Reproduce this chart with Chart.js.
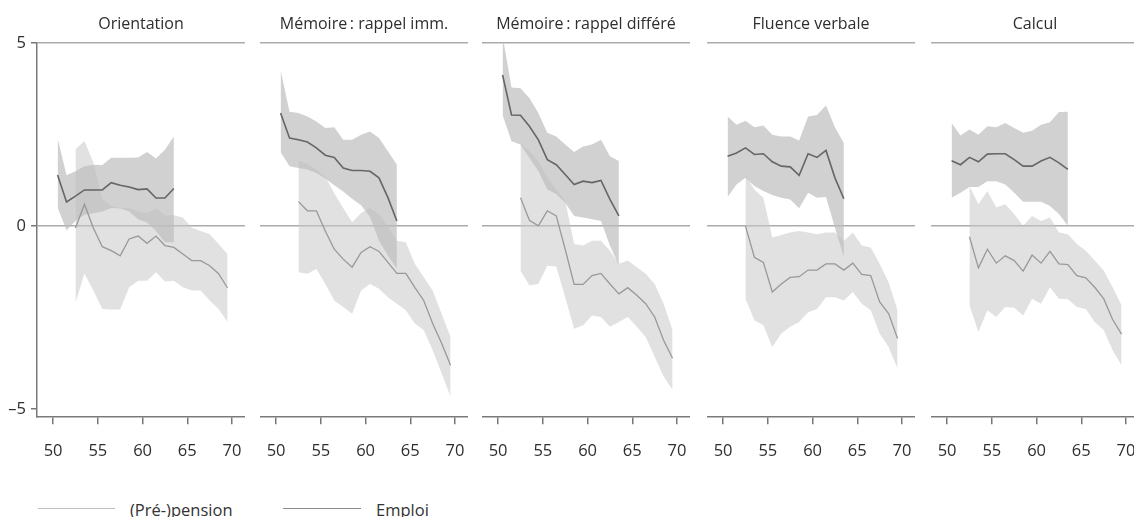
<!DOCTYPE html>
<html lang="fr">
<head>
<meta charset="utf-8">
<title>Scores cognitifs selon l'âge</title>
<script src="https://cdn.jsdelivr.net/npm/chart.js@4.4.1/dist/chart.umd.min.js"></script>
<style>
    html, body { margin: 0; padding: 0; background: #fff; }
    #wrap {
        position: relative;
        width: 1134px;
        height: 517px;
        overflow: hidden;
        font-family: 'Open Sans', sans-serif;
        color: #333;
    }
    #wrap canvas { position: absolute; top: 0; }
    .legend-line { position: absolute; top: 508px; height: 0; border-top: 1.5px solid; }
    .legend-text { position: absolute; top: 500px; font-size: 16.5px; line-height: 20px; white-space: nowrap; }
</style>
</head>
<body>
<div id="wrap">
    <div class="legend-line" style="left:38px;width:77px;border-color:#bdbdbd"></div>
    <div class="legend-text" style="left:130px">(Pré-)pension</div>
    <div class="legend-line" style="left:283px;width:78px;border-color:#8c8c8c"></div>
    <div class="legend-text" style="left:376px">Emploi</div>
</div>
<script>
'use strict';

// ─── Données ────────────────────────────────────────────────

const AGES_EMPLOI  = [50.5, 51.5, 52.5, 53.5, 54.5, 55.5, 56.5, 57.5, 58.5, 59.5, 60.5, 61.5, 62.5, 63.5];
const AGES_PENSION = [52.5, 53.5, 54.5, 55.5, 56.5, 57.5, 58.5, 59.5, 60.5, 61.5, 62.5, 63.5, 64.5, 65.5, 66.5, 67.5, 68.5, 69.5];

const X_TICKS = [50, 55, 60, 65, 70];
const Y_TICKS = [-5, 0, 5];

const TITLES = ['Orientation', 'Mémoire\u2009: rappel imm.', 'Mémoire\u2009: rappel différé', 'Fluence verbale', 'Calcul'];

// Orientation
const orientEmploi      = [1.40, 0.66, 0.82, 0.99, 0.99, 0.99, 1.19, 1.12, 1.07, 1.00, 1.02, 0.77, 0.77, 1.03];
const orientEmploiHaut  = [2.41, 1.39, 1.50, 1.64, 1.68, 1.67, 1.87, 1.87, 1.87, 1.88, 2.03, 1.85, 2.09, 2.45];
const orientEmploiBas   = [0.51, -0.11, 0.14, 0.31, 0.35, 0.40, 0.50, 0.48, 0.40, 0.19, 0.10, -0.13, -0.44, -0.44];
const orientPension     = [-0.05, 0.60, -0.05, -0.56, -0.67, -0.81, -0.35, -0.27, -0.47, -0.27, -0.53, -0.58, -0.76, -0.94, -0.94, -1.08, -1.30, -1.69];
const orientPensionHaut = [2.10, 2.33, 1.74, 0.75, 0.55, 0.50, 0.50, 0.40, 0.35, 0.50, 0.30, 0.30, 0.24, -0.04, -0.13, -0.22, -0.49, -0.76];
const orientPensionBas  = [-2.10, -1.29, -1.76, -2.26, -2.28, -2.28, -1.67, -1.49, -1.49, -1.26, -1.51, -1.49, -1.67, -1.76, -1.76, -2.03, -2.26, -2.62];

// Mémoire : rappel immédiat
const rappelImmEmploi      = [3.09, 2.41, 2.36, 2.30, 2.14, 1.94, 1.88, 1.59, 1.52, 1.52, 1.50, 1.32, 0.78, 0.14];
const rappelImmEmploiHaut  = [4.27, 3.13, 3.09, 3.00, 2.86, 2.68, 2.70, 2.36, 2.36, 2.50, 2.59, 2.41, 2.05, 1.68];
const rappelImmEmploiBas   = [2.03, 1.64, 1.59, 1.55, 1.45, 1.30, 1.12, 0.95, 0.75, 0.57, 0.25, -0.40, -0.80, -1.17];
const rappelImmPension     = [0.67, 0.42, 0.42, -0.13, -0.63, -0.90, -1.12, -0.72, -0.56, -0.69, -0.99, -1.29, -1.29, -1.67, -2.03, -2.66, -3.20, -3.80];
const rappelImmPensionHaut = [1.80, 1.70, 1.55, 1.35, 0.90, 0.50, 0.11, 0.36, 0.50, 0.33, 0.00, -0.40, -0.44, -1.03, -1.39, -1.76, -2.39, -3.03];
const rappelImmPensionBas  = [-1.26, -1.30, -1.17, -1.58, -2.03, -2.21, -2.39, -1.76, -1.58, -1.71, -1.94, -2.12, -2.30, -2.66, -2.84, -3.39, -4.02, -4.66];

// Mémoire : rappel différé
const rappelDifEmploi      = [4.13, 3.04, 3.03, 2.73, 2.36, 1.82, 1.68, 1.41, 1.14, 1.23, 1.19, 1.25, 0.73, 0.28];
const rappelDifEmploiHaut  = [5.20, 3.79, 3.77, 3.50, 3.09, 2.55, 2.45, 2.23, 2.03, 2.18, 2.23, 2.36, 1.91, 1.78];
const rappelDifEmploiBas   = [3.04, 2.32, 2.23, 1.87, 1.50, 1.00, 0.87, 0.64, 0.28, 0.24, 0.19, 0.14, -0.53, -1.08];
const rappelDifPension     = [0.78, 0.16, 0.01, 0.42, 0.28, -0.63, -1.59, -1.59, -1.35, -1.29, -1.58, -1.85, -1.68, -1.89, -2.12, -2.48, -3.12, -3.61];
const rappelDifPensionHaut = [2.25, 2.05, 1.78, 1.32, 1.00, 0.70, -0.49, -0.53, -0.40, -0.40, -0.67, -1.03, -0.94, -1.12, -1.30, -1.58, -2.12, -2.84];
const rappelDifPensionBas  = [-1.21, -1.62, -1.58, -1.08, -1.10, -1.94, -2.80, -2.71, -2.44, -2.48, -2.75, -2.62, -2.48, -2.75, -3.03, -3.57, -4.11, -4.47];

// Fluence verbale
const fluenceEmploi      = [1.91, 2.00, 2.14, 1.96, 1.98, 1.76, 1.64, 1.62, 1.39, 1.98, 1.88, 2.07, 1.32, 0.75];
const fluenceEmploiHaut  = [3.00, 2.77, 2.88, 2.70, 2.75, 2.50, 2.45, 2.45, 2.34, 3.00, 3.04, 3.30, 2.70, 2.27];
const fluenceEmploiBas   = [0.80, 1.14, 1.32, 1.10, 0.96, 0.85, 0.78, 0.73, 0.49, 0.91, 0.78, 0.80, -0.04, -0.85];
const fluencePension     = [0.00, -0.85, -0.99, -1.80, -1.58, -1.40, -1.38, -1.20, -1.20, -1.03, -1.03, -1.20, -1.01, -1.32, -1.35, -2.07, -2.39, -3.07];
const fluencePensionHaut = [1.40, 1.00, 0.78, -0.31, -0.24, -0.17, -0.13, -0.17, -0.22, -0.17, -0.17, -0.40, -0.17, -0.53, -0.58, -1.03, -1.53, -2.30];
const fluencePensionBas  = [-1.98, -2.57, -2.71, -3.30, -2.93, -2.75, -2.62, -2.35, -2.26, -1.94, -1.94, -2.03, -1.80, -2.12, -2.30, -2.93, -3.30, -3.89];

// Calcul
const calculEmploi      = [1.79, 1.68, 1.88, 1.76, 1.97, 1.98, 1.98, 1.82, 1.64, 1.64, 1.78, 1.88, 1.73, 1.55];
const calculEmploiHaut  = [2.82, 2.48, 2.64, 2.50, 2.73, 2.70, 2.82, 2.68, 2.55, 2.61, 2.77, 2.84, 3.12, 3.13];
const calculEmploiBas   = [0.78, 0.91, 1.07, 1.07, 1.23, 1.23, 1.14, 0.91, 0.67, 0.67, 0.67, 0.55, 0.33, 0.01];
const calculPension     = [-0.29, -1.14, -0.63, -1.01, -0.81, -0.94, -1.23, -0.79, -1.01, -0.69, -1.03, -1.05, -1.35, -1.41, -1.67, -1.98, -2.55, -2.95];
const calculPensionHaut = [1.10, 0.60, 0.96, 0.51, 0.60, 0.33, 0.01, 0.28, 0.14, 0.24, -0.17, -0.22, -0.49, -0.67, -0.94, -1.21, -1.67, -2.16];
const calculPensionBas  = [-2.16, -2.89, -2.30, -2.48, -2.21, -2.23, -2.44, -1.98, -2.12, -1.67, -1.98, -2.00, -2.21, -2.26, -2.62, -2.84, -3.39, -3.80];

const PANELS = [
    { emploi: [orientEmploi, orientEmploiHaut, orientEmploiBas],             pension: [orientPension, orientPensionHaut, orientPensionBas] },
    { emploi: [rappelImmEmploi, rappelImmEmploiHaut, rappelImmEmploiBas],    pension: [rappelImmPension, rappelImmPensionHaut, rappelImmPensionBas] },
    { emploi: [rappelDifEmploi, rappelDifEmploiHaut, rappelDifEmploiBas],    pension: [rappelDifPension, rappelDifPensionHaut, rappelDifPensionBas] },
    { emploi: [fluenceEmploi, fluenceEmploiHaut, fluenceEmploiBas],          pension: [fluencePension, fluencePensionHaut, fluencePensionBas] },
    { emploi: [calculEmploi, calculEmploiHaut, calculEmploiBas],             pension: [calculPension, calculPensionHaut, calculPensionBas] },
];

// ─── Mise en page ───────────────────────────────────────────

const PLOT_LEFT   = [37, 260, 482, 707, 931];
const PLOT_WIDTH  = 208;
const AXIS_WIDTH  = 37;
const CANVAS_H    = 478;
const FONT        = "'Open Sans', sans-serif";

const COL_EMPLOI_LINE  = '#666666';
const COL_EMPLOI_BAND  = 'rgba(190,190,190,0.7)';
const COL_PENSION_LINE = '#999999';
const COL_PENSION_BAND = 'rgba(200,200,200,0.55)';

// ─── Helpers ────────────────────────────────────────────────

function points(ages, values) {
    return ages.map((x, i) => ({ x, y: values[i] }));
}

function band(ages, hi, lo, color, order) {
    return [
        { data: points(ages, hi), fill: '+1', backgroundColor: color, borderColor: 'rgba(0,0,0,0)', borderWidth: 0, pointRadius: 0, order },
        { data: points(ages, lo), fill: false, borderColor: 'rgba(0,0,0,0)', borderWidth: 0, pointRadius: 0, order },
    ];
}

function line(ages, values, color, width, order) {
    return { data: points(ages, values), fill: false, borderColor: color, borderWidth: width, pointRadius: 0, tension: 0, order };
}

function minusLabel(v) {
    return v < 0 ? '\u2013' + Math.abs(v) : String(v);
}

// ─── Panneaux ───────────────────────────────────────────────

function drawPanel(idx) {
    const p = PANELS[idx];
    const first = idx === 0;
    const canvas = document.createElement('canvas');
    const width = first ? AXIS_WIDTH + PLOT_WIDTH : PLOT_WIDTH;
    canvas.width = width;
    canvas.height = CANVAS_H;
    canvas.style.left = (first ? 0 : PLOT_LEFT[idx]) + 'px';
    canvas.style.width = width + 'px';
    canvas.style.height = CANVAS_H + 'px';
    document.getElementById('wrap').appendChild(canvas);

    new Chart(canvas, {
        type: 'line',
        data: {
            datasets: [
                ...band(AGES_PENSION, p.pension[1], p.pension[2], COL_PENSION_BAND, 4),
                ...band(AGES_EMPLOI, p.emploi[1], p.emploi[2], COL_EMPLOI_BAND, 3),
                line(AGES_PENSION, p.pension[0], COL_PENSION_LINE, 1.3, 2),
                line(AGES_EMPLOI, p.emploi[0], COL_EMPLOI_LINE, 1.6, 1),
            ],
        },
        options: {
            responsive: false,
            animation: false,
            events: [],
            layout: { padding: 0 },
            plugins: {
                legend: { display: false },
                tooltip: { enabled: false },
                title: {
                    display: true,
                    fullSize: false,   // centre over the plot, not over the y axis
                    text: TITLES[idx],
                    color: '#2e2e2e',
                    font: { family: FONT, size: 16, weight: 'normal' },
                    padding: { top: 15, bottom: 9 },
                },
            },
            scales: {
                x: {
                    type: 'linear',
                    min: 48.2,
                    max: 71.45,
                    afterBuildTicks: (s) => { s.ticks = X_TICKS.map(v => ({ value: v })); },
                    // the labels sit well inside the panel: no side padding wanted
                    afterFit: (s) => { s.paddingLeft = 0; s.paddingRight = 0; },
                    grid: { drawOnChartArea: false, drawTicks: true, tickLength: 7, tickColor: '#777', lineWidth: 1.5 },
                    border: { display: true, color: '#7a7a7a', width: 1.5 },
                    ticks: { color: '#2e2e2e', padding: 17, maxRotation: 0, font: { family: FONT, size: 16.5 } },
                },
                y: {
                    min: -5.22,
                    max: 5,
                    afterBuildTicks: (s) => { s.ticks = Y_TICKS.map(v => ({ value: v })); },
                    afterFit: (s) => { s.width = first ? AXIS_WIDTH : 0; },
                    grid: {
                        color: (c) => (c.tick && c.tick.value === -5 ? 'rgba(0,0,0,0)' : '#ababab'),
                        lineWidth: 1.5,
                        drawTicks: first,
                        tickLength: 6,
                        tickColor: '#777',
                    },
                    border: { display: first, color: '#7a7a7a', width: 1.5 },
                    ticks: {
                        display: first,
                        color: '#2e2e2e',
                        padding: 5,
                        font: { family: FONT, size: 16.5 },
                        callback: minusLabel,
                    },
                },
            },
        },
    });
}

PANELS.forEach((_, i) => drawPanel(i));
</script>
</body>
</html>
